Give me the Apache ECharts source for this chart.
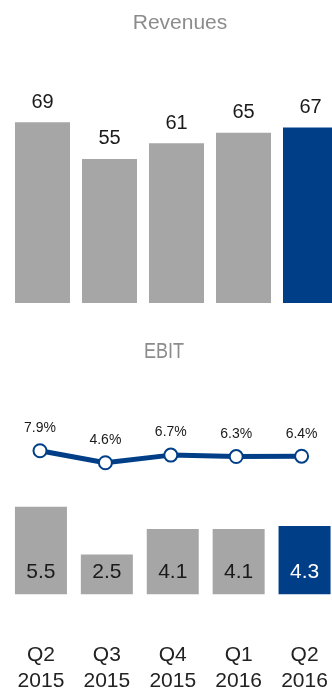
<!DOCTYPE html>
<html>
<head>
<meta charset="utf-8">
<script src="https://cdn.jsdelivr.net/npm/echarts@6/dist/echarts.min.js"></script>
<style>
  html, body { margin: 0; padding: 0; background: #ffffff; }
  #chart { width: 332px; height: 691px; }
</style>
</head>
<body>
<div id="chart"></div>
<script>
// Quarterly figures
var quarters = ['Q2\n2015', 'Q3\n2015', 'Q4\n2015', 'Q1\n2016', 'Q2\n2016'];
var revenues = [69, 55, 61, 65, 67];
var ebit = [5.5, 2.5, 4.1, 4.1, 4.3];
var ebitMargin = [7.9, 4.6, 6.7, 6.3, 6.4];

var GRAY = '#a6a6a6';
var BLUE = '#003f88';
var FONT = '"Liberation Sans", Arial, sans-serif';

// Highlight the latest quarter in blue; white value text optional
function colored(values, whiteLast) {
  return values.map(function (v, i) {
    var last = i === values.length - 1;
    var item = { value: v, itemStyle: { color: last ? BLUE : GRAY } };
    if (whiteLast) item.label = { color: last ? '#ffffff' : '#1a1a1a' };
    return item;
  });
}

var chart = echarts.init(document.getElementById('chart'), null, { renderer: 'canvas' });

var hiddenY = { type: 'value', show: false, splitLine: { show: false } };
function hiddenX(grid) {
  return {
    type: 'category', gridIndex: grid, data: quarters,
    axisLine: { show: false }, axisTick: { show: false }, axisLabel: { show: false }
  };
}

chart.setOption({
  animation: false,
  textStyle: { fontFamily: FONT },
  graphic: [
    {
      type: 'text', x: 180, y: 23,
      style: {
        text: 'Revenues', fill: '#8c8c8c', font: '21px ' + FONT,
        align: 'center', verticalAlign: 'middle'
      }
    },
    {
      type: 'text', x: 164, y: 352, scaleX: 0.82,
      style: {
        text: 'EBIT', fill: '#8c8c8c', font: '22px ' + FONT,
        align: 'center', verticalAlign: 'middle'
      }
    }
  ],
  grid: [
    // revenues (last bar runs past the right edge)
    { left: 9, width: 335, top: 119.6, height: 183.4, outerBoundsMode: 'none', containLabel: false },
    // EBIT margin line
    { left: 7.3, width: 327, top: 443.1, height: 36.4, outerBoundsMode: 'none', containLabel: false },
    // EBIT bars
    { left: 8, width: 329.5, top: 498.9, height: 95.4, outerBoundsMode: 'none', containLabel: false }
  ],
  xAxis: [
    hiddenX(0),
    hiddenX(1),
    {
      type: 'category', gridIndex: 2, data: quarters,
      axisLine: { show: false }, axisTick: { show: false },
      axisLabel: {
        margin: 48, color: '#222222', fontSize: 21, lineHeight: 26, fontFamily: FONT
      }
    }
  ],
  yAxis: [
    Object.assign({ gridIndex: 0, min: 0, max: 70 }, hiddenY),
    Object.assign({ gridIndex: 1, min: 0, max: 10 }, hiddenY),
    Object.assign({ gridIndex: 2, min: 0, max: 6 }, hiddenY)
  ],
  series: [
    {
      type: 'bar', xAxisIndex: 0, yAxisIndex: 0,
      barWidth: 55,
      data: colored(revenues, false),
      label: {
        show: true, position: 'top', distance: 10,
        fontSize: 20, color: '#1a1a1a', fontFamily: FONT
      }
    },
    {
      type: 'line', xAxisIndex: 1, yAxisIndex: 1,
      data: ebitMargin,
      symbol: 'circle', symbolSize: 13,
      lineStyle: { color: BLUE, width: 5 },
      itemStyle: { color: '#ffffff', borderColor: BLUE, borderWidth: 2 },
      label: {
        show: true, position: 'top', distance: 8,
        fontSize: 14, color: '#1a1a1a', fontFamily: FONT,
        formatter: function (p) { return p.value.toFixed(1) + '%'; }
      }
    },
    {
      type: 'bar', xAxisIndex: 2, yAxisIndex: 2,
      barWidth: 52,
      data: colored(ebit, true),
      label: {
        show: true, position: 'insideBottom', distance: 12,
        fontSize: 21, fontFamily: FONT,
        formatter: function (p) { return p.value.toFixed(1); }
      }
    }
  ]
});
</script>
</body>
</html>
